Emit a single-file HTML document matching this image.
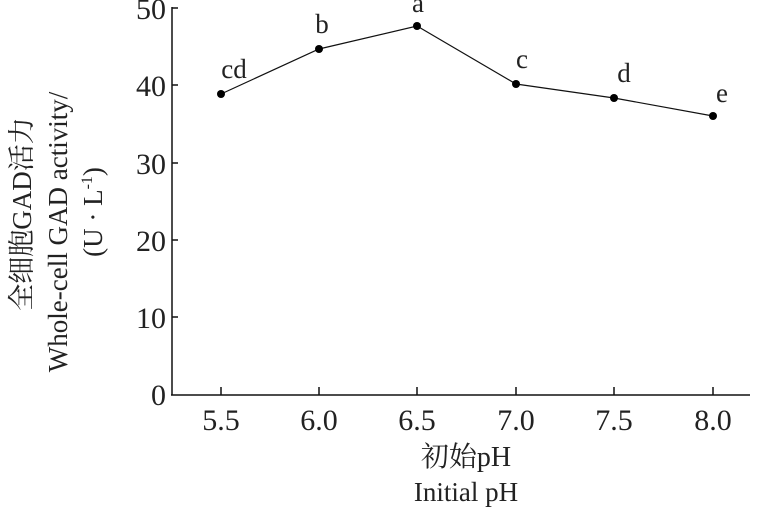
<!DOCTYPE html><html><head><style>body{margin:0;background:#fff}svg{display:block}text{font-family:"Liberation Serif","Noto Serif CJK SC",serif;fill:#222}</style></head><body>
<svg width="763" height="508" viewBox="0 0 763 508">
<g stroke="#111" stroke-width="1.5" fill="none">
<line x1="172" y1="7" x2="172" y2="395"/>
<line x1="171" y1="395" x2="750" y2="395"/>
<line x1="172" y1="8" x2="178" y2="8"/><line x1="172" y1="85" x2="178" y2="85"/><line x1="172" y1="163" x2="178" y2="163"/><line x1="172" y1="240" x2="178" y2="240"/><line x1="172" y1="317" x2="178" y2="317"/>
<line x1="221" y1="395" x2="221" y2="387"/><line x1="319" y1="395" x2="319" y2="387"/><line x1="417" y1="395" x2="417" y2="387"/><line x1="516" y1="395" x2="516" y2="387"/><line x1="614" y1="395" x2="614" y2="387"/><line x1="713" y1="395" x2="713" y2="387"/>
</g>
<polyline points="221,94 319,49 417,26 516,84 614,98 713,116" fill="none" stroke="#111" stroke-width="1.2"/>
<g fill="#000"><circle cx="221" cy="94" r="4"/><circle cx="319" cy="49" r="4"/><circle cx="417" cy="26" r="4"/><circle cx="516" cy="84" r="4"/><circle cx="614" cy="98" r="4"/><circle cx="713" cy="116" r="4"/></g>
<g font-size="27" text-anchor="middle">
<text x="234" y="78">cd</text><text x="322" y="33">b</text><text x="418" y="12">a</text><text x="522" y="68">c</text><text x="624" y="82">d</text><text x="722" y="102">e</text>
</g>
<g font-size="30" text-anchor="end">
<text x="166" y="19">50</text><text x="166" y="96">40</text><text x="166" y="174">30</text><text x="166" y="251">20</text><text x="166" y="328">10</text><text x="166" y="405">0</text>
</g>
<g font-size="30" text-anchor="middle">
<text x="221" y="430">5.5</text><text x="319" y="430">6.0</text><text x="417" y="430">6.5</text><text x="516" y="430">7.0</text><text x="614" y="430">7.5</text><text x="713" y="430">8.0</text>
<text x="466" y="466" font-size="28">初始pH</text>
<text x="466" y="501" font-size="27">Initial pH</text>
</g>
<g font-size="27" text-anchor="middle">
<text transform="translate(31,214) rotate(-90)">全细胞GAD活力</text>
<text transform="translate(67,232) rotate(-90)">Whole-cell GAD activity/</text>
<text transform="translate(102,212) rotate(-90)">(U · L<tspan font-size="16" dy="-10">-1</tspan><tspan dy="10">)</tspan></text>
</g>
</svg></body></html>
